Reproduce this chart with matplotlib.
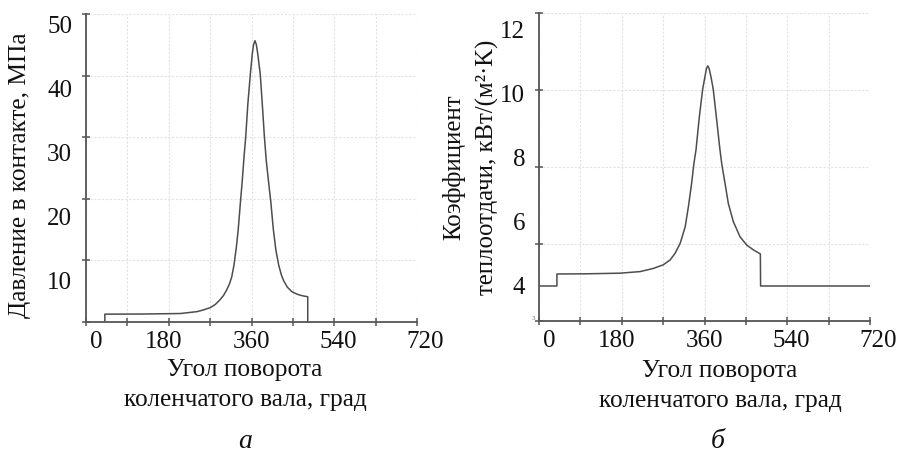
import matplotlib
matplotlib.use("Agg")
import matplotlib.pyplot as plt
import matplotlib.transforms as mt
from matplotlib.ticker import FixedLocator, NullFormatter

# ---- data ----
# Panel a: contact pressure, MPa
angle_a = [41, 41, 120, 205, 241, 255, 270, 281, 291, 299, 306, 312, 317, 322, 327, 331,
           336, 340, 344, 347.5, 352, 357.5, 361.8, 364.5, 367.6, 370.5, 373.5, 379, 383.5,
           388, 392, 397, 402, 407.5, 413, 419, 425, 430, 438, 448, 458, 466, 474, 482.3, 482.3]
press_a = [0, 4.8, 4.82, 4.9, 5.19, 5.45, 5.81, 6.3, 7.0, 7.7, 8.57, 9.5, 10.6, 12.5, 15.2, 17.9,
           22.3, 25.7, 29.5, 32.5, 37.5, 42.2, 45.4, 46.8, 47.4, 46.8, 45.4, 42.2, 37.5,
           32.5, 28.8, 25.5, 22.3, 18.0, 14.8, 12.5, 10.9, 10.0, 9.0, 8.3, 7.95, 7.75, 7.62, 7.52, 0]

# Panel b: heat transfer coefficient, kW/(m2*K)
angle_b = [0, 39, 39, 100, 176, 220, 249, 270, 285, 296, 307, 318, 325, 332, 337, 341.5,
           348.5, 356, 361, 364, 367, 370, 374, 379, 386, 393.7, 397.4, 404.6, 411.8, 422.7,
           437.2, 451.8, 466.2, 481.5, 482, 720]
htc_b = [4.0, 4.0, 4.375, 4.38, 4.40, 4.45, 4.55, 4.66, 4.81, 5.02, 5.33, 5.85, 6.48, 7.21, 7.83, 8.25,
         9.25, 10.15, 10.54, 10.78, 10.88, 10.8, 10.54, 10.15, 9.25, 8.25, 7.83, 7.21, 6.58, 6.01,
         5.54, 5.28, 5.13, 5.0, 4.0, 4.0]

x_ticks = [0, 90, 180, 270, 360, 450, 540, 630, 720]
x_labels = ["0", "180", "360", "540", "720"]
x_label_vals = [0, 180, 360, 540, 720]
yticks_a = [10, 20, 30, 40, 50]
yticks_b = [4, 6, 8, 10, 12]
ylim_a = (3.58, 51.56)
ylim_b = (2.906, 12.53)

FONT = "Liberation Serif"
plt.rcParams["font.family"] = [FONT, "DejaVu Serif"]

fig = plt.figure(figsize=(9, 4.62), dpi=100)
W, H = 900, 462

def px_axes(x0, y0, x1, y1):
    return fig.add_axes([x0 / W, 1 - y1 / H, (x1 - x0) / W, (y1 - y0) / H])

ax_a = px_axes(86, 14, 417, 322)
ax_b = px_axes(539, 13, 870, 321)

line_c = "#4d4d4d"
spine_c = "#555555"
grid_c = "#e2e2e2"
text_c = "#111111"
label_dx_px = [10, -5, 0, 4, 8]

def style(ax, yt, ylim, ndiv):
    ax.set_xlim(0, 720)
    ax.set_ylim(*ylim)
    for s in ["top", "right"]:
        ax.spines[s].set_visible(False)
    for s in ["left", "bottom"]:
        ax.spines[s].set_color(spine_c)
        ax.spines[s].set_linewidth(1.3)
    ax.xaxis.set_major_locator(FixedLocator(x_ticks))
    ax.xaxis.set_major_formatter(NullFormatter())
    ax.tick_params(axis="x", which="major", direction="inout", length=6, width=1.1, color=spine_c)
    lo, hi = ylim
    grid_vals = [lo + k * (hi - lo) / ndiv for k in range(ndiv + 1)]
    ax.yaxis.set_minor_locator(FixedLocator(grid_vals))
    ax.yaxis.set_minor_formatter(NullFormatter())
    ax.tick_params(axis="y", which="minor", direction="inout", length=6, width=1.1, color=spine_c)
    ax.yaxis.set_major_locator(FixedLocator(yt))
    ax.set_yticklabels([str(v) for v in yt])
    ax.tick_params(axis="y", which="major", length=0, pad=10, labelsize=18, labelcolor=text_c)
    ax.grid(True, axis="x", which="major", color=grid_c, lw=0.8, ls=(0, (2, 1.5)))
    ax.grid(True, axis="y", which="minor", color=grid_c, lw=0.8, ls=(0, (2, 1.5)))
    ax.set_axisbelow(True)
    for v, lab, dx in zip(x_label_vals, x_labels, label_dx_px):
        tr = ax.get_xaxis_transform() + mt.ScaledTranslation(dx / 100, -9 / 100, fig.dpi_scale_trans)
        ax.text(v, 0, lab, transform=tr, ha="center", va="top", fontsize=18, color=text_c)

style(ax_a, yticks_a, ylim_a, 5)
style(ax_b, yticks_b, ylim_b, 4)

ax_a.plot(angle_a, press_a, color=line_c, lw=1.1, solid_joinstyle="round")
ax_b.plot(angle_b, htc_b, color=line_c, lw=1.1, solid_joinstyle="round")

# small leftover mark near the origin of panel b
ax_b.text(-0.012, 0.0, "3", transform=ax_b.transAxes, ha="right", va="bottom", fontsize=5, color="#666666")

# axis labels
fig.text(20 / W, 1 - 175 / H, "Давление в контакте, МПа", rotation=90, ha="center", va="center",
         fontsize=18.3, color=text_c)
fig.text(470.5 / W, 1 - 167 / H, "Коэффициент\nтеплоотдачи, кВт/(м²·K)", rotation=90, ha="center",
         va="center", fontsize=17.8, linespacing=1.6, color=text_c)
fig.text(245 / W, 1 - 385 / H, "Угол поворота\nколенчатого вала, град", ha="center", va="center",
         fontsize=18.3, linespacing=1.45, color=text_c)
fig.text(720 / W, 1 - 386 / H, "Угол поворота\nколенчатого вала, град", ha="center", va="center",
         fontsize=18.3, linespacing=1.45, color=text_c)

fig.text(245 / W, 1 - 441 / H, "а", ha="center", va="center", fontsize=20, style="italic", color=text_c)
fig.text(718 / W, 1 - 441 / H, "б", ha="center", va="center", fontsize=20, style="italic", color=text_c)

fig.savefig("out.png", dpi=100)
